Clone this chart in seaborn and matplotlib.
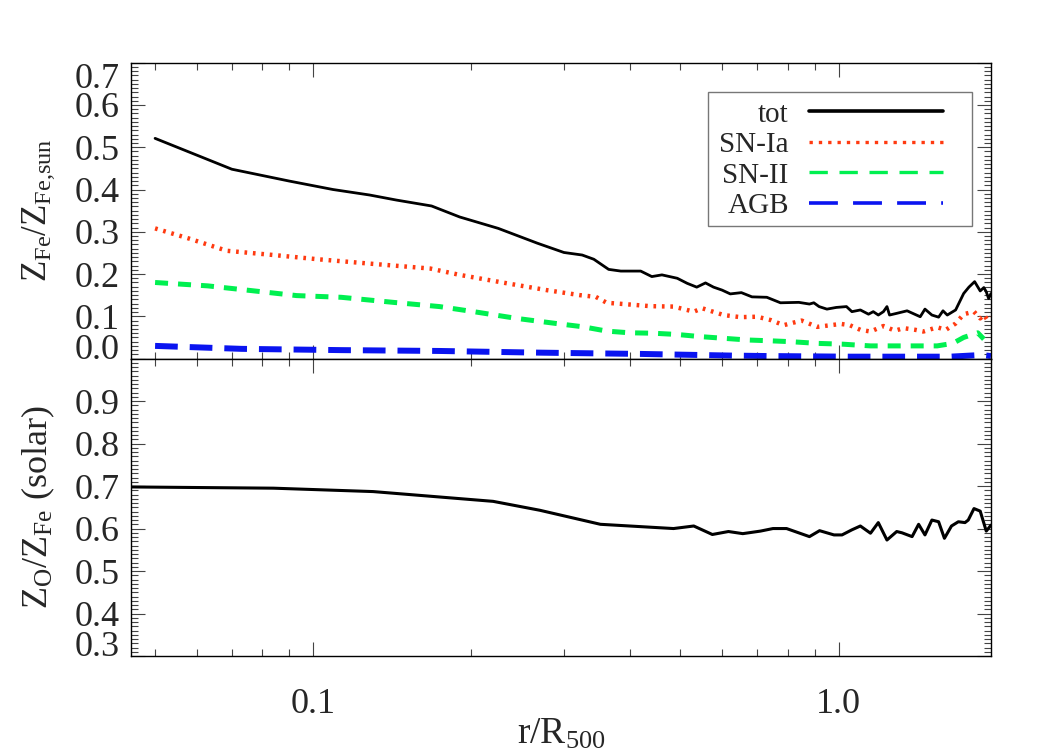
import numpy as np
import pandas as pd
import matplotlib
matplotlib.use('Agg')
import matplotlib.pyplot as plt
from matplotlib.lines import Line2D
from matplotlib.patches import Rectangle
from matplotlib.ticker import MultipleLocator, NullFormatter
import seaborn as sns

sns.set_style('ticks')
plt.rcParams['font.family'] = ['Liberation Serif', 'DejaVu Serif']
plt.rcParams['mathtext.fontset'] = 'custom'
plt.rcParams['mathtext.rm'] = 'Liberation Serif'
plt.rcParams['mathtext.it'] = 'Liberation Serif:italic'

# --- data ---
tot_r = [0.050, 0.070, 0.090, 0.109, 0.128, 0.144, 0.168, 0.190, 0.225, 0.267,
         0.300, 0.325, 0.342, 0.365, 0.385, 0.420, 0.441, 0.461, 0.493, 0.515,
         0.537, 0.558, 0.578, 0.600, 0.622, 0.653, 0.684, 0.730, 0.775, 0.840,
         0.880, 0.897, 0.918, 0.950, 0.990, 1.035, 1.060, 1.100, 1.140, 1.164,
         1.190, 1.217, 1.236, 1.250, 1.290, 1.350, 1.430, 1.460, 1.505, 1.550,
         1.580, 1.610, 1.670, 1.730, 1.770, 1.815, 1.860, 1.890, 1.910, 1.930, 1.950]
tot_z = [0.521, 0.448, 0.420, 0.400, 0.387, 0.375, 0.361, 0.335, 0.308, 0.273,
         0.251, 0.245, 0.235, 0.211, 0.207, 0.207, 0.194, 0.198, 0.190, 0.178,
         0.169, 0.179, 0.169, 0.162, 0.153, 0.156, 0.146, 0.145, 0.132, 0.133,
         0.129, 0.132, 0.123, 0.117, 0.121, 0.123, 0.111, 0.115, 0.105, 0.111,
         0.103, 0.111, 0.123, 0.103, 0.107, 0.113, 0.099, 0.117, 0.103, 0.098,
         0.113, 0.103, 0.115, 0.154, 0.169, 0.182, 0.160, 0.168, 0.158, 0.142, 0.154]

snia_r = [0.050, 0.058, 0.0685, 0.084, 0.102, 0.130, 0.167, 0.190, 0.234, 0.278,
          0.322, 0.345, 0.362, 0.390, 0.438, 0.485, 0.530, 0.550, 0.604, 0.650,
          0.700, 0.743, 0.786, 0.850, 0.910, 1.010, 1.050, 1.100, 1.150, 1.217,
          1.280, 1.330, 1.400, 1.450, 1.540, 1.600, 1.670, 1.730, 1.810, 1.860,
          1.890, 1.920, 1.950]
snia_z = [0.308, 0.284, 0.255, 0.245, 0.235, 0.224, 0.213, 0.198, 0.178, 0.162,
          0.150, 0.146, 0.132, 0.129, 0.124, 0.123, 0.111, 0.119, 0.103, 0.098,
          0.099, 0.091, 0.079, 0.090, 0.075, 0.082, 0.079, 0.068, 0.064, 0.077,
          0.066, 0.072, 0.068, 0.064, 0.074, 0.068, 0.083, 0.105, 0.111, 0.095,
          0.104, 0.091, 0.098]

snii_r = [0.050, 0.063, 0.076, 0.093, 0.113, 0.142, 0.174, 0.202, 0.244, 0.290,
          0.327, 0.362, 0.400, 0.444, 0.493, 0.545, 0.604, 0.670, 0.743, 0.810,
          0.910, 1.020, 1.150, 1.310, 1.540, 1.650, 1.730, 1.840, 1.890]
snii_z = [0.180, 0.172, 0.161, 0.149, 0.145, 0.133, 0.123, 0.111, 0.095, 0.083,
          0.075, 0.065, 0.061, 0.060, 0.057, 0.052, 0.048, 0.044, 0.042, 0.040,
          0.036, 0.034, 0.030, 0.030, 0.030, 0.036, 0.050, 0.061, 0.046]

agb_r = [0.050, 0.073, 0.113, 0.174, 0.270, 0.420, 0.630, 0.730, 1.050, 1.630,
         1.870, 1.950]
agb_z = [0.030, 0.023, 0.020, 0.018, 0.014, 0.011, 0.007, 0.006, 0.0045, 0.0045,
         0.0085, 0.006]

ofe_r = [0.044, 0.084, 0.130, 0.220, 0.270, 0.352, 0.485, 0.530, 0.575, 0.617,
         0.657, 0.710, 0.750, 0.796, 0.880, 0.920, 0.980, 1.015, 1.060, 1.100,
         1.150, 1.190, 1.236, 1.290, 1.320, 1.380, 1.420, 1.460, 1.505, 1.550,
         1.590, 1.640, 1.690, 1.740, 1.765, 1.810, 1.860, 1.910, 1.950]
ofe_z = [0.698, 0.695, 0.687, 0.664, 0.643, 0.610, 0.600, 0.606, 0.586, 0.593,
         0.588, 0.594, 0.600, 0.600, 0.581, 0.595, 0.585, 0.585, 0.597, 0.606,
         0.589, 0.614, 0.573, 0.593, 0.590, 0.581, 0.610, 0.585, 0.620, 0.616,
         0.577, 0.606, 0.616, 0.614, 0.620, 0.647, 0.641, 0.594, 0.608]

labels = ['tot', 'SN-Ia', 'SN-II', 'AGB']
colors = ['black', '#ff3a10', '#00f050', '#0a14f0']

fig = plt.figure(figsize=(10.5, 7.5), dpi=100)
ax1 = fig.add_axes([0.1248, 0.5219, 0.8190, 0.3945])
ax2 = fig.add_axes([0.1248, 0.1253, 0.8190, 0.3966])

sns.lineplot(x=tot_r, y=tot_z, ax=ax1, color=colors[0], lw=2.0,
             estimator=None, sort=False, legend=False)
sns.lineplot(x=snia_r, y=snia_z, ax=ax1, color=colors[1], lw=3.2,
             linestyle=(0, (0.6, 1.3)), estimator=None, sort=False, legend=False)
sns.lineplot(x=snii_r, y=snii_z, ax=ax1, color=colors[2], lw=3.6,
             linestyle=(0, (2.6, 2.0)), estimator=None, sort=False, legend=False)
sns.lineplot(x=agb_r, y=agb_z, ax=ax1, color=colors[3], lw=4.3,
             linestyle=(0, (3.8, 2.0)), estimator=None, sort=False, legend=False)
sns.lineplot(x=ofe_r, y=ofe_z, ax=ax2, color='black', lw=2.2,
             estimator=None, sort=False, legend=False)

for ax in (ax1, ax2):
    ax.set_xscale('log')
    ax.set_xlim(0.045, 1.95)
    ax.set_xticks([0.1, 1.0])
    ax.set_xticks([0.05, 0.06, 0.07, 0.08, 0.09, 0.2, 0.3, 0.4, 0.5, 0.6,
                   0.7, 0.8, 0.9], minor=True)
    ax.xaxis.set_minor_formatter(NullFormatter())
    ax.yaxis.set_minor_locator(MultipleLocator(0.01))
    ax.tick_params(which='both', direction='in', top=True, right=True,
                   width=0.8, color='#444444')
    ax.tick_params(which='major', length=10)
    ax.tick_params(which='minor', length=5)
    ax.tick_params(axis='y', labelsize=26, pad=8)
    ax.tick_params(axis='x', labelsize=26, pad=23)
    for s in ax.spines.values():
        s.set_linewidth(1.0)
        s.set_color('black')
    ax.set_xlabel('')
    ax.set_ylabel('')

ax1.set_ylim(0.0, 0.7)
ax1.set_yticks(np.arange(0.0, 0.71, 0.1),
               labels=['0.0', '0.1', '0.2', '0.3', '0.4', '0.5', '0.6', '0.7'])
ax1.set_xticklabels([])
ax1.set_ylabel(r'Z$_{\rm Fe}$/Z$_{\rm Fe{,}sun}$', fontsize=25, labelpad=13)

ax2.set_ylim(0.3, 1.0)
ax2.set_yticks(np.arange(0.3, 0.91, 0.1),
               labels=['0.3', '0.4', '0.5', '0.6', '0.7', '0.8', '0.9'])
ax2.set_xticklabels(['0.1', '1.0'])
ax2.set_ylabel(r'Z$_{\rm O}$/Z$_{\rm Fe}$ (solar)', fontsize=26, labelpad=13)
ax2.set_xlabel(r'r/R$_{500}$', fontsize=27, labelpad=-3)

# keep edge labels inside the panel
yl1 = ax1.get_yticklabels()
yl1[0].set_va('baseline')
yl1[-1].set_va('top')
yl2 = ax2.get_yticklabels()
yl2[0].set_va('baseline')

# legend box drawn separately (extra room on the right like the original)
ax1.add_patch(Rectangle((0.671, 0.448), 0.307, 0.453, transform=ax1.transAxes,
                        facecolor='white', edgecolor='#777777', lw=1.0, zorder=4))
handles = [
    Line2D([], [], color=colors[0], lw=2.6),
    Line2D([], [], color=colors[1], lw=2.4, linestyle=(0, (1.0, 1.8))),
    Line2D([], [], color=colors[2], lw=2.4, linestyle=(0, (5.5, 3.5))),
    Line2D([], [], color=colors[3], lw=2.6, linestyle=(0, (8.0, 4.2))),
]
leg = ax1.legend(handles, labels, loc='upper right', bbox_to_anchor=(0.944, 0.870),
                 fontsize=21, markerfirst=False, handlelength=4.6,
                 handletextpad=0.68, labelspacing=0.14, borderpad=0.0,
                 borderaxespad=0.0, frameon=False)
leg.set_zorder(5)

fig.savefig('out.png', dpi=100)
